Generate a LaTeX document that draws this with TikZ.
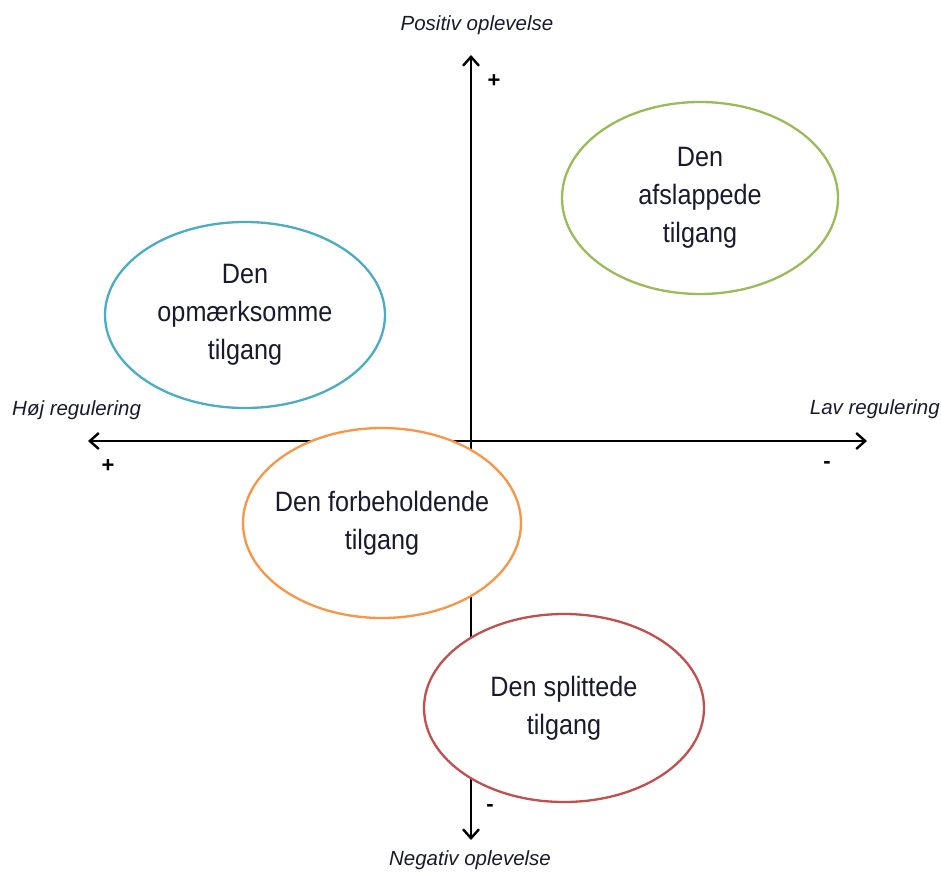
\documentclass[tikz,border=0pt]{standalone}
\usepackage{fontspec}
\setmainfont{Liberation Sans}
\newfontfamily\narrowfont{Liberation Sans}[FakeStretch=0.9]
\usetikzlibrary{arrows.meta,shapes.geometric}
\definecolor{cblue}{HTML}{4BACC6}
\definecolor{cgreen}{HTML}{9BBB59}
\definecolor{corange}{HTML}{F79646}
\definecolor{cred}{HTML}{C0504D}
\definecolor{ctext}{HTML}{1A1A2E}
\tikzset{
  axis/.style={line width=2.6pt, -{Straight Barb[length=9pt,width=16pt,line width=2.4pt]}},
  oval/.style={ellipse, draw, line width=2.3pt, fill=white, text=ctext, align=center,
    font=\narrowfont\fontsize{28}{38}\selectfont, inner ysep=0pt, inner xsep=-20pt},
  axlabel/.style={font=\itshape\fontsize{20.5}{24}\selectfont, text=ctext, inner sep=0pt},
  sign/.style={font=\bfseries\fontsize{22}{24}\selectfont, inner sep=0pt}
}
\begin{document}
\begin{tikzpicture}[x=1pt,y=-1pt]
\useasboundingbox (0,0) rectangle (941,872);
\coordinate (o) at (471,441);
\coordinate (top) at (471,55);
\coordinate (bot) at (471,840);
\coordinate (left) at (88,441);
\coordinate (right) at (867,441);
\draw[axis] (o) -- (top);
\draw[axis] (o) -- (bot);
\draw[axis] (o) -- (left);
\draw[axis] (o) -- (right);
\node[axlabel] (lpos) at (477,25) {Positiv oplevelse};
\node[axlabel] (lneg) at (470,860) {Negativ oplevelse};
\node[axlabel, anchor=west] (lhoj) at (12,410) {Høj regulering};
\node[axlabel, anchor=east] (llav) at (940,409) {Lav regulering};
\node[sign] (ptop) at (494,81) {+};
\node[sign] (pleft) at (108,466) {+};
\node[sign] (mright) at (827,465) {-};
\node[sign] (mbot) at (490,808) {-};
\node[oval, draw=cblue, minimum width=280pt, minimum height=186pt] (blue) at (245,315) {Den\\opmærksomme\\tilgang};
\node[oval, draw=cgreen, minimum width=276pt, minimum height=192pt] (green) at (700,198) {Den\\afslappede\\tilgang};
\node[oval, draw=corange, minimum width=278pt, minimum height=190pt] (orange) at (382,523) {Den forbeholdende\\tilgang};
\node[oval, draw=cred, minimum width=280pt, minimum height=188pt] (red) at (564,708) {Den splittede\\tilgang};
\end{tikzpicture}
\end{document}
